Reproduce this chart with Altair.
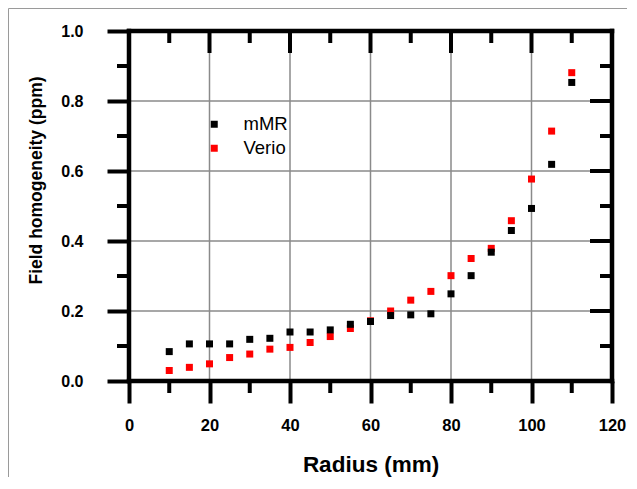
import altair as alt
import pandas as pd

radius = [10, 15, 20, 25, 30, 35, 40, 45, 50, 55, 60, 65, 70, 75, 80, 85, 90, 95, 100, 105, 110]
mmr = [0.084, 0.106, 0.106, 0.106, 0.119, 0.122, 0.140, 0.140, 0.146, 0.162, 0.170, 0.187,
       0.189, 0.192, 0.249, 0.301, 0.368, 0.430, 0.493, 0.619, 0.853]
verio = [0.030, 0.039, 0.049, 0.067, 0.077, 0.091, 0.096, 0.110, 0.127, 0.150, 0.172, 0.200,
         0.231, 0.256, 0.301, 0.350, 0.379, 0.458, 0.577, 0.714, 0.881]
series = ["mMR", "Verio"]
colors = ["#000000", "#ff0000"]

x_major = [0, 20, 40, 60, 80, 100, 120]
x_minor = [10, 30, 50, 70, 90, 110]
y_major = [0.0, 0.2, 0.4, 0.6, 0.8, 1.0]
y_minor = [0.1, 0.3, 0.5, 0.7, 0.9]
x_grid = [20, 40, 60, 80, 100]
y_grid = [0.2, 0.4, 0.6, 0.8]

W, H = 483, 350
FONT = "Liberation Sans"
MAJ, MIN, TW = 22, 12, 4

rows = [{"x": r, "y": v, "s": "mMR"} for r, v in zip(radius, mmr)] + \
       [{"x": r, "y": v, "s": "Verio"} for r, v in zip(radius, verio)]
df = pd.DataFrame(rows)

xs = alt.Scale(domain=[0, 120], nice=False, zero=False)
ys = alt.Scale(domain=[0, 1.0], nice=False, zero=False)

xaxis = alt.Axis(
    values=x_major, title="Radius (mm)", grid=False, domain=False,
    tickSize=MAJ, tickWidth=TW, tickColor="black",
    labelFont=FONT, labelFontWeight="bold", labelFontSize=16.5, labelColor="black",
    labelPadding=14, labelFlush=False,
    titleFont=FONT, titleFontWeight="bold", titleFontSize=22.5, titleColor="black",
    titleY=90, titleBaseline="alphabetic")
yaxis = alt.Axis(
    values=y_major, format=".1f", title="Field homogeneity (ppm)", grid=False, domain=False,
    tickSize=MAJ, tickWidth=TW, tickColor="black",
    labelFont=FONT, labelFontWeight="bold", labelFontSize=16, labelColor="black",
    labelPadding=24, labelFlush=False,
    titleFont=FONT, titleFontWeight="bold", titleFontSize=17.5, titleColor="black",
    titleX=-88, titleY=149, titleBaseline="alphabetic", titleAlign="center", titleAngle=270)

X = lambda: alt.X("x:Q", scale=xs, axis=xaxis)
Y = lambda: alt.Y("y:Q", scale=ys, axis=yaxis)

points = alt.Chart(df).mark_square(size=49, opacity=1).encode(
    x=X(), y=Y(),
    color=alt.Color("s:N", scale=alt.Scale(domain=series, range=colors),
                    legend=alt.Legend(title=None, orient="none", legendX=76, legendY=84,
                                      symbolType="square", symbolSize=49, symbolStrokeWidth=0,
                                      labelFont=FONT, labelFontSize=18.5, labelColor="black",
                                      labelOffset=20, rowPadding=5, padding=0)),
    order=alt.Order("s:N"),
)

def xdf(vals):
    return pd.DataFrame({"x": vals})

def ydf(vals):
    return pd.DataFrame({"y": vals})

grid_x = alt.Chart(xdf(x_grid)).mark_rule(color="#8a8a8a", strokeWidth=1.5).encode(
    x=X(), y=alt.value(0), y2=alt.value(H))
grid_y = alt.Chart(ydf(y_grid)).mark_rule(color="#8a8a8a", strokeWidth=1.5).encode(
    y=Y(), x=alt.value(0), x2=alt.value(W))

tick = dict(color="black", strokeWidth=TW)
top_major = alt.Chart(xdf(x_major)).mark_rule(**tick).encode(x=X(), y=alt.value(0), y2=alt.value(MAJ))
top_minor = alt.Chart(xdf(x_minor)).mark_rule(**tick).encode(x=X(), y=alt.value(0), y2=alt.value(MIN))
bot_minor = alt.Chart(xdf(x_minor)).mark_rule(**tick).encode(x=X(), y=alt.value(H), y2=alt.value(H + MIN))
right_major = alt.Chart(ydf(y_major)).mark_rule(**tick).encode(y=Y(), x=alt.value(W), x2=alt.value(W - MAJ))
right_minor = alt.Chart(ydf(y_minor)).mark_rule(**tick).encode(y=Y(), x=alt.value(W), x2=alt.value(W - MIN))
left_minor = alt.Chart(ydf(y_minor)).mark_rule(**tick).encode(y=Y(), x=alt.value(0), x2=alt.value(-MIN))

frame = dict(color="black", strokeWidth=4.5, strokeCap="square")
f_top = alt.Chart(xdf([0])).mark_rule(**frame).encode(x=alt.value(0), x2=alt.value(W), y=alt.value(0))
f_bot = alt.Chart(xdf([0])).mark_rule(**frame).encode(x=alt.value(0), x2=alt.value(W), y=alt.value(H))
f_left = alt.Chart(xdf([0])).mark_rule(**frame).encode(y=alt.value(0), y2=alt.value(H), x=alt.value(0))
f_right = alt.Chart(xdf([0])).mark_rule(**frame).encode(y=alt.value(0), y2=alt.value(H), x=alt.value(W))

# thin outer border of the figure (top and left)
border_top = alt.Chart(xdf([0])).mark_rule(color="#9a9a9a", strokeWidth=1).encode(
    x=alt.value(-120.5), x2=alt.value(W + 40), y=alt.value(-22.5))
border_left = alt.Chart(xdf([0])).mark_rule(color="#9a9a9a", strokeWidth=1).encode(
    x=alt.value(-120.5), y=alt.value(-22.5), y2=alt.value(H + 120))

chart = alt.layer(
    grid_x, grid_y, top_major, top_minor, bot_minor,
    right_major, right_minor, left_minor,
    f_top, f_bot, f_left, f_right, border_top, border_left, points
).properties(
    width=W, height=H,
    padding={"left": 121, "top": 23, "right": 15, "bottom": 96},
    autosize=alt.AutoSizeParams(type="none"),
    background="white",
).configure_view(stroke=None)

chart.save("out.html", embed_options={"renderer": "svg", "actions": False})
